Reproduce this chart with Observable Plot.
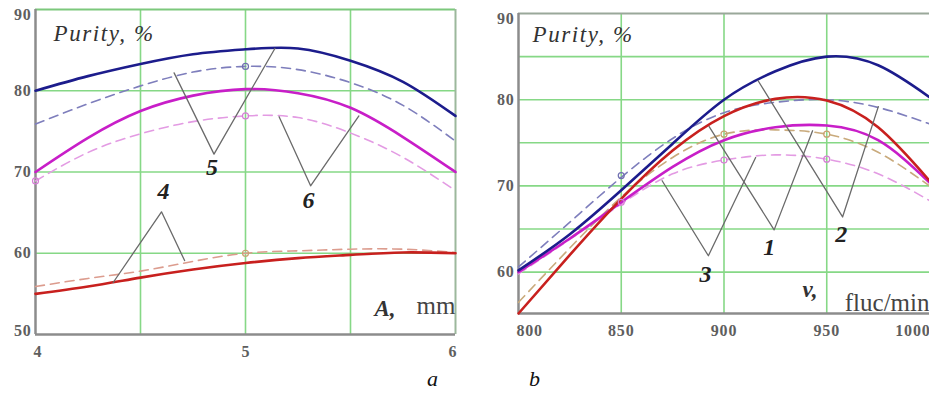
<!DOCTYPE html>
<html>
<head>
<meta charset="utf-8">
<script src="https://cdn.jsdelivr.net/npm/d3@7"></script>
<script src="https://cdn.jsdelivr.net/npm/@observablehq/plot@0.6"></script>
<style>
  html, body { margin: 0; padding: 0; background: #fff; }
  body { width: 929px; height: 396px; position: relative; overflow: hidden; font-family: "Liberation Serif", "DejaVu Serif", serif; }
  .panel { position: absolute; top: 0; }
  .panel svg { overflow: visible; }
  .sub { position: absolute; font-style: italic; font-size: 22px; color: #111; font-family: "Liberation Serif", serif; }
</style>
</head>
<body>
<div id="pa" class="panel" style="left:0px"></div>
<div id="pb" class="panel" style="left:470px"></div>
<div class="sub" style="left:427px; top:366px">a</div>
<div class="sub" style="left:529px; top:366px">b</div>
<script>
// ---------- Panel a: Purity vs amplitude A, mm ----------
const aX = [4, 4.25, 4.5, 4.75, 5, 5.25, 5.5, 5.75, 6];
const aBlueSolid   = [80.0, 81.8, 83.3, 84.5, 85.1, 85.2, 83.7, 81.1, 76.9];
const aBlueDashed  = [75.9, 78.4, 80.6, 82.3, 83.0, 82.6, 81.0, 78.2, 73.8];
const aMagSolid    = [70.0, 74.2, 77.5, 79.4, 80.2, 79.7, 77.9, 74.3, 70.0];
const aMagDashed   = [68.9, 72.4, 74.7, 76.2, 76.9, 76.7, 74.8, 71.8, 67.7];
const aRedSolid    = [55.0, 55.9, 57.0, 58.0, 58.8, 59.4, 59.8, 60.1, 60.0];
const aRedDashed   = [55.9, 56.9, 57.8, 59.0, 60.0, 60.3, 60.5, 60.5, 60.1];
const aXTicks = [4, 5, 6];
const aYTicks = [50, 60, 70, 80, 90];
const aXGrid = [4.5, 5, 5.5];
const aYGrid = [60, 70, 80];
// leader lines and curve numbers
const aLeaders = [
  {id: "5", pts: [[4.66, 82.2], [4.85, 72.2], [5.14, 85.2]], label: [4.84, 70.6]},
  {id: "6", pts: [[5.16, 76.8], [5.31, 68.3], [5.54, 76.9]], label: [5.30, 66.5]},
  {id: "4", pts: [[4.37, 56.4], [4.60, 65.1], [4.71, 59.1]], label: [4.61, 67.6]}
];
const aMarkers = [
  {x: 5, y: 83.0, c: "#6f6fb0"},
  {x: 5, y: 76.9, c: "#d77fd7"},
  {x: 5, y: 60.0, c: "#c9a070"},
  {x: 4, y: 68.9, c: "#d77fd7"}
];

// ---------- Panel b: Purity vs frequency v, fluc/min ----------
const bX = [800, 825, 850, 875, 900, 925, 950, 975, 1000];
const bBlueSolid   = [60.2, 64.4, 69.5, 74.9, 80.0, 83.3, 85.0, 84.0, 80.3];
const bBlueDashed  = [60.6, 65.8, 71.0, 75.5, 78.5, 79.7, 80.0, 79.1, 77.2];
const bRedSolid    = [55.2, 62.0, 68.5, 74.1, 78.1, 80.1, 79.9, 76.8, 70.6];
const bRedDashed   = [56.5, 62.8, 68.7, 73.3, 76.0, 76.5, 76.0, 73.9, 70.0];
const bMagSolid    = [60.0, 63.9, 68.1, 72.2, 75.3, 76.8, 77.0, 75.3, 70.4];
const bMagDashed   = [59.8, 63.8, 67.9, 71.4, 73.0, 73.6, 73.1, 71.4, 68.3];
const bXTicks = [800, 850, 900, 950, 1000];
const bYTicks = [60, 70, 80, 90];
const bXGrid = [850, 900, 950];
const bYGrid = [60, 65, 70, 75, 80, 85];
const bLeaders = [
  {id: "3", pts: [[869.9, 70.6], [892.4, 61.9], [915.4, 73.3]], label: [891, 59.8]},
  {id: "1", pts: [[892.7, 76.9], [924.4, 64.9], [943.1, 76.4]], label: [922, 62.9]},
  {id: "2", pts: [[916.6, 82.2], [957.7, 66.4], [975.1, 79.2]], label: [957, 64.4]}
];
const bMarkers = [
  {x: 850, y: 71.2, c: "#6f6fb0"},
  {x: 900, y: 76.0, c: "#c9a070"},
  {x: 950, y: 76.0, c: "#c9a070"},
  {x: 900, y: 73.0, c: "#d77fd7"},
  {x: 950, y: 73.1, c: "#d77fd7"},
  {x: 850, y: 68.1, c: "#d77fd7"}
];

const GRID = "#86d886";
const FRAME = "#8c8c8c";
const TICKC = "#5e5e5e";
const FONT = "Liberation Serif";

function series(xs, ys) { return xs.map((x, i) => ({x, y: ys[i]})); }

function lineMark(xs, ys, color, dashed, width) {
  return Plot.line(series(xs, ys), {
    x: "x", y: "y", curve: "natural", stroke: color,
    strokeWidth: width, strokeDasharray: dashed ? "9,6" : null
  });
}

function leaderMarks(leaders) {
  const marks = [];
  for (const L of leaders) {
    marks.push(Plot.line(L.pts, {x: d => d[0], y: d => d[1], stroke: "#6a6a6a", strokeWidth: 1.3}));
    marks.push(Plot.text([L.label], {x: d => d[0], y: d => d[1], text: () => L.id,
      fontSize: 24, fontStyle: "italic", fontWeight: "bold", fill: "#222", fontFamily: FONT}));
  }
  return marks;
}

function tickText(ticks, yv) {
  const first = ticks[0], last = ticks[ticks.length - 1];
  const common = {y: () => yv, text: d => String(d), fontSize: 16, fontWeight: "bold",
    fill: TICKC, fontFamily: FONT, dy: 17};
  return [
    Plot.text([first], {...common, x: d => d, textAnchor: "start", dx: -2}),
    Plot.text(ticks.slice(1, -1), {...common, x: d => d, textAnchor: "middle"}),
    Plot.text([last], {...common, x: d => d, textAnchor: "end", dx: 1})
  ];
}

function yTickText(ticks, xv, dyFirst, dyLast) {
  const out = [];
  ticks.forEach((t, i) => {
    let dy = 0;
    if (i === 0) dy = dyFirst;
    if (i === ticks.length - 1) dy = dyLast;
    out.push(Plot.text([t], {x: () => xv, y: d => d, text: d => String(d), dx: -4, dy,
      textAnchor: "end", fontSize: 16, fontWeight: "bold", fill: TICKC, fontFamily: FONT}));
  });
  return out;
}

function widen(svg) {
  d3.select(svg).selectAll("text").each(function () {
    const t = this.textContent;
    if (t === "Purity, %") d3.select(this).style("letter-spacing", "1.6px");
    else if (/^\d+$/.test(t) && t.length > 1) d3.select(this).style("letter-spacing", "0.8px");
  });
}

// ---------- draw panel a ----------
const plotA = Plot.plot({
  width: 470, height: 370,
  marginLeft: 35, marginRight: 15, marginTop: 9, marginBottom: 36,
  x: {domain: [4, 6], axis: null},
  y: {domain: [50, 90], axis: null},
  style: {background: "transparent", fontFamily: FONT, overflow: "visible"},
  marks: [
    Plot.ruleX(aXGrid, {stroke: GRID, strokeWidth: 1.6}),
    Plot.ruleY(aYGrid, {stroke: GRID, strokeWidth: 1.6}),
    Plot.ruleY([90], {stroke: "#7cc87c", strokeWidth: 2}),
    Plot.ruleX([6], {stroke: "#9cb89c", strokeWidth: 2}),
    Plot.ruleX([4], {stroke: FRAME, strokeWidth: 2.5}),
    Plot.ruleY([50], {stroke: FRAME, strokeWidth: 2.5}),
    lineMark(aX, aRedDashed, "#dc9c8e", true, 1.6),
    lineMark(aX, aRedSolid, "#c8201e", false, 2.6),
    lineMark(aX, aMagDashed, "#e39be3", true, 1.6),
    lineMark(aX, aMagSolid, "#c81ec8", false, 2.6),
    lineMark(aX, aBlueDashed, "#7e7ebc", true, 1.6),
    lineMark(aX, aBlueSolid, "#1c1c8c", false, 2.6),
    Plot.dot(aMarkers, {x: "x", y: "y", r: 3, stroke: "c", fill: "none", strokeWidth: 1.2}),
    ...leaderMarks(aLeaders),
    ...tickText(aXTicks, 50),
    ...yTickText(aYTicks, 4, -4, 5),
    Plot.text(["Purity, %"], {x: () => 4, y: () => 90, dx: 18, dy: 24, textAnchor: "start",
      fontSize: 23, fontStyle: "italic", fill: "#333", fontFamily: FONT}),
    Plot.text(["A,"], {x: () => 6, y: () => 50, dx: -60, dy: -26, textAnchor: "end",
      fontSize: 23, fontStyle: "italic", fill: "#333", fontFamily: FONT, fontWeight: "bold"}),
    Plot.text(["mm"], {x: () => 6, y: () => 50, dx: 0, dy: -29, textAnchor: "end",
      fontSize: 25, fill: "#444", fontFamily: FONT})
  ]
});
widen(plotA);
document.getElementById("pa").appendChild(plotA);

// ---------- draw panel b ----------
const plotB = Plot.plot({
  width: 459, height: 370,
  marginLeft: 48, marginRight: 0, marginTop: 13, marginBottom: 57,
  x: {domain: [800, 1000], axis: null},
  y: {domain: [55.2, 90], axis: null},
  style: {background: "transparent", fontFamily: FONT, overflow: "visible"},
  marks: [
    Plot.ruleX(bXGrid, {stroke: GRID, strokeWidth: 1.6}),
    Plot.ruleY(bYGrid, {stroke: GRID, strokeWidth: 1.6}),
    Plot.ruleY([90], {stroke: "#9aa89a", strokeWidth: 2}),
    Plot.ruleX([800], {stroke: FRAME, strokeWidth: 2.5}),
    Plot.ruleY([55.2], {stroke: FRAME, strokeWidth: 2.5}),
    lineMark(bX, bMagDashed, "#e39be3", true, 1.6),
    lineMark(bX, bRedDashed, "#c9aa7c", true, 1.6),
    lineMark(bX, bBlueDashed, "#7e7ebc", true, 1.6),
    lineMark(bX, bMagSolid, "#c81ec8", false, 2.6),
    lineMark(bX, bRedSolid, "#c8201e", false, 2.6),
    lineMark(bX, bBlueSolid, "#1c1c8c", false, 2.6),
    Plot.dot(bMarkers, {x: "x", y: "y", r: 3, stroke: "c", fill: "none", strokeWidth: 1.2}),
    ...leaderMarks(bLeaders),
    ...tickText(bXTicks, 55.2),
    ...yTickText(bYTicks, 800, 0, 5),
    Plot.text(["Purity, %"], {x: () => 800, y: () => 90, dx: 14, dy: 21, textAnchor: "start",
      fontSize: 23, fontStyle: "italic", fill: "#333", fontFamily: FONT}),
    Plot.text(["v,"], {x: () => 1000, y: () => 55.2, dx: -112, dy: -24, textAnchor: "end",
      fontSize: 23, fontStyle: "italic", fill: "#333", fontFamily: FONT, fontWeight: "bold"}),
    Plot.text(["fluc/min"], {x: () => 1000, y: () => 55.2, dx: 0, dy: -11, textAnchor: "end",
      fontSize: 25, fill: "#444", fontFamily: FONT})
  ]
});
widen(plotB);
document.getElementById("pb").appendChild(plotB);
</script>
</body>
</html>
